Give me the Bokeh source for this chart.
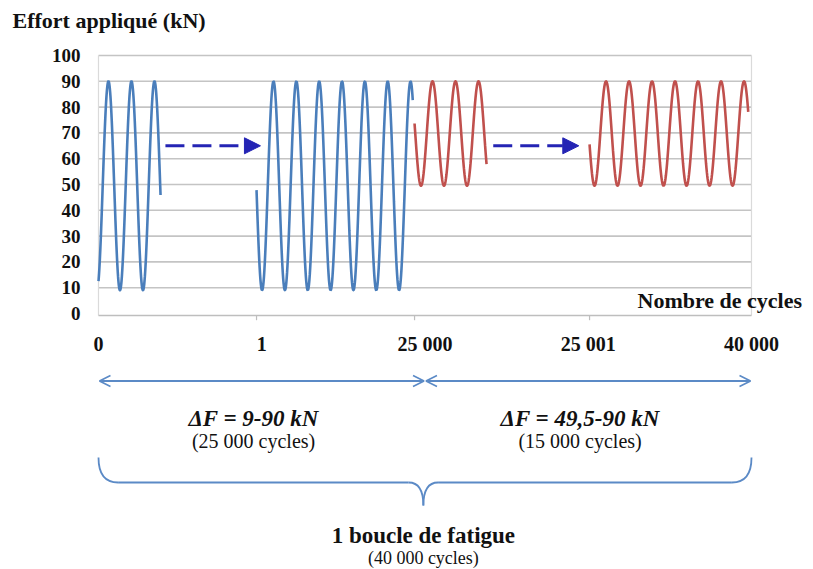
import numpy as np
from bokeh.plotting import figure
from bokeh.models import (Range1d, FixedTicker, Arrow, NormalHead, OpenHead,
                          LabelSet, ColumnDataSource)
from bokeh.core.properties import value
from bokeh.embed import file_html
from bokeh.resources import INLINE

# ---------------- data ----------------
tick_pos = [0, 1, 2, 3, 4]
tick_labels = ["0", "1", "25 000", "25 001", "40 000"]
y_ticks = [0, 10, 20, 30, 40, 50, 60, 70, 80, 90, 100]

# load blocks (schematic sinusoids), x in tick-index units
seg_start = [0.000, 0.968, 1.936, 3.008]
seg_end = [0.380, 1.925, 2.377, 3.980]
seg_fmin = [9.0, 9.0, 49.5, 49.5]
seg_fmax = [90.0, 90.0, 90.0, 90.0]
seg_first_peak = [0.061, 1.072, 2.046, 3.109]
seg_period = [0.1409, 0.1399, 0.1409, 0.1409]
seg_block = [0, 0, 1, 1]

block_labels = ["ΔF = 9-90 kN", "ΔF = 49,5-90 kN"]
block_cycles = ["(25 000 cycles)", "(15 000 cycles)"]
block_from = [0, 2]
block_to = [2, 4]
loop_label = "1 boucle de fatigue"
loop_cycles = "(40 000 cycles)"
y_title = "Effort appliqué (kN)"
x_title = "Nombre de cycles"

# ---------------- layout / style ----------------
W, H = 812, 568
LEFT, TOP = 88, 36
X0 = 98                # canvas x of the first tick
PX_X = 163.25          # px per x unit
PX_Y = 2.58            # px per kN
Y0 = 313               # canvas y of 0 kN


def yv(page_y):
    return (Y0 - page_y) / PX_Y


def xv(page_x):
    return (page_x - X0) / PX_X


block_colors = ["#4A7EBB", "#C0504D"]
DARK = "#2424B4"
LIGHT = "#5B8AC6"
SERIF = "Liberation Serif"
INK = "#111111"

p = figure(width=W, height=H, output_backend="svg", toolbar_location=None,
           x_range=Range1d(xv(LEFT), xv(W)),
           y_range=Range1d(yv(H), yv(TOP)),
           x_axis_location=None, y_axis_location="left",
           title=y_title, min_border_left=LEFT, min_border_top=TOP,
           min_border_right=0, min_border_bottom=0)
p.title.align = "left"
p.title.offset = 12 - LEFT
p.title.vertical_align = "bottom"
p.title.standoff = 8
p.title.text_font = SERIF
p.title.text_font_size = "22px"
p.title.text_font_style = "bold"
p.title.text_color = INK
p.outline_line_color = None
p.xgrid.visible = False
p.ygrid.visible = False
p.background_fill_color = "white"
p.border_fill_color = "white"

ax = p.yaxis[0]
ax.ticker = FixedTicker(ticks=y_ticks)
ax.axis_line_color = None
ax.major_tick_line_color = None
ax.minor_tick_line_color = None
ax.major_tick_out = 0
ax.major_tick_in = 0
ax.minor_tick_out = 0
ax.major_label_standoff = 8
ax.major_label_text_font = SERIF
ax.major_label_text_font_size = "19px"
ax.major_label_text_font_style = "bold"
ax.major_label_text_color = INK

# grid lines and frame of the chart area
grid_y = y_ticks[1:]
p.segment(x0=[tick_pos[0]] * len(grid_y), x1=[tick_pos[-1]] * len(grid_y),
          y0=grid_y, y1=grid_y, line_color="#C4C4C4", line_width=1.6)
p.segment(x0=[tick_pos[0], tick_pos[-1]], x1=[tick_pos[0], tick_pos[-1]],
          y0=[-0.8, -0.8], y1=[y_ticks[-1]] * 2, line_color="#DADADA", line_width=1.2)
p.segment(x0=[tick_pos[0]], x1=[tick_pos[-1]], y0=[-0.8], y1=[-0.8],
          line_color="#BEBEBE", line_width=1.5)
p.segment(x0=seg_start[1:], x1=seg_start[1:], y0=[-0.8] * 3, y1=[-2.6] * 3,
          line_color="#BEBEBE", line_width=1.2)

# sinusoidal load blocks
for s, e, fmin, fmax, pk, per, b in zip(seg_start, seg_end, seg_fmin, seg_fmax,
                                         seg_first_peak, seg_period, seg_block):
    x = np.linspace(s, e, 400)
    mid = (fmin + fmax) / 2
    amp = (fmax - fmin) / 2
    y = mid + amp * np.cos(2 * np.pi * (x - pk) / per)
    p.line(x, y, line_color=block_colors[b], line_width=2.6)

# dashed "skip" arrows
for xs, xe in [(0.41, 0.992), (2.418, 2.942)]:
    p.add_layout(Arrow(end=NormalHead(size=16, fill_color=DARK, line_color=DARK),
                       x_start=xs, y_start=65, x_end=xe, y_end=65,
                       line_color=DARK, line_width=3, line_dash="19 8"))

# x tick labels
tick_src = ColumnDataSource(dict(x=tick_pos, y=[yv(343)] * len(tick_pos), text=tick_labels))
p.add_layout(LabelSet(x="x", y="y", text="text", source=tick_src,
                      text_align="center", text_baseline="middle",
                      text_font=value(SERIF), text_font_size="20px",
                      text_font_style="bold", text_color=INK))
p.text(x=[xv(637)], y=[yv(300)], text=[x_title], text_align="left",
       text_baseline="middle", text_font=value(SERIF), text_font_size="22px",
       text_font_style="bold", text_color=INK)

# range arrows under the axis
ya = yv(380.5)
for a, b in zip(block_from, block_to):
    p.add_layout(Arrow(start=OpenHead(size=11, line_color=LIGHT, line_width=1.6),
                       end=OpenHead(size=11, line_color=LIGHT, line_width=1.6),
                       x_start=a + 0.006, y_start=ya, x_end=b - 0.006, y_end=ya,
                       line_color=LIGHT, line_width=1.8))

# block descriptions
cx = [(a + b) / 2 - 0.05 for a, b in zip(block_from, block_to)]
p.text(x=cx, y=[yv(418)] * 2, text=block_labels, text_align="center",
       text_baseline="middle", text_font=value(SERIF), text_font_size="23px",
       text_font_style="bold italic", text_color=INK)
p.text(x=cx, y=[yv(440)] * 2, text=block_cycles, text_align="center",
       text_baseline="middle", text_font=value(SERIF), text_font_size="20px",
       text_color=INK)

# brace
yt, yh, yc = yv(457), yv(482), yv(505)
x0, x1 = block_from[0], block_to[-1]
xm = block_to[0] - 0.01
hook = 0.12
cusp = 0.09
p.quadratic(x0=[x0, xm - cusp, xm + cusp, x1 - hook],
            y0=[yt, yh, yh, yh],
            x1=[x0 + hook, xm, xm, x1],
            y1=[yh, yc, yc, yt],
            cx=[x0, xm, xm, x1],
            cy=[yh, yh, yh, yh],
            line_color=LIGHT, line_width=1.8)
p.segment(x0=[x0 + hook, xm + cusp], x1=[xm - cusp, x1 - hook],
          y0=[yh, yh], y1=[yh, yh], line_color=LIGHT, line_width=1.8)

p.text(x=[xm], y=[yv(535)], text=[loop_label], text_align="center",
       text_baseline="middle", text_font=value(SERIF), text_font_size="23px",
       text_font_style="bold", text_color=INK)
p.text(x=[xm], y=[yv(557)], text=[loop_cycles], text_align="center",
       text_baseline="middle", text_font=value(SERIF), text_font_size="18px",
       text_color=INK)

open("out.html", "w").write(file_html(p, INLINE))
